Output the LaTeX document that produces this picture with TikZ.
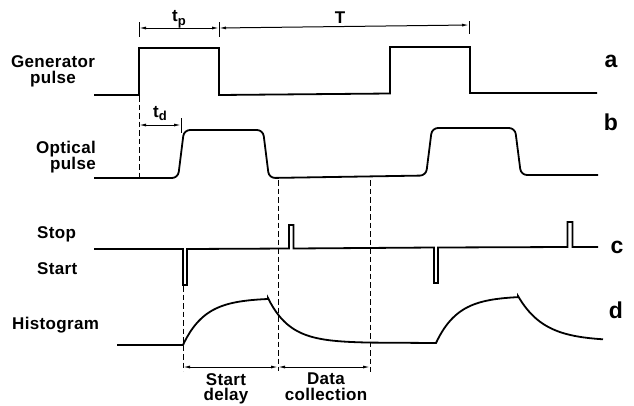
\documentclass[tikz,border=0pt]{standalone}
\usepackage{fontspec}
\newfontfamily\lblfont{Liberation Sans}[LetterSpace=2]
\usetikzlibrary{arrows.meta}
\begin{document}
\begin{tikzpicture}[x=1pt,y=-1pt,
  trace/.style={line width=1.8pt,line join=miter},
  dimline/.style={line width=1pt,{Latex[length=7pt,width=3pt]}-{Latex[length=7pt,width=3pt]}},
  tickline/.style={line width=1pt},
  guide/.style={line width=1pt,dash pattern=on 5.5pt off 3pt},
  lbl/.style={font=\lblfont\bfseries\fontsize{17}{15.5}\selectfont,inner sep=0pt,anchor=base},
  lbltwo/.style={font=\lblfont\bfseries\fontsize{17}{15.5}\selectfont,inner sep=0pt,anchor=north,align=center},
  letter/.style={font=\lblfont\bfseries\fontsize{23}{23}\selectfont,inner sep=0pt,anchor=base}]
\useasboundingbox (0,0) rectangle (634,405);
\clip (0,0) rectangle (634,405);
% ---------- labels left
\node[lbltwo] (gen) at (53,55.5) {Generator\\pulse};
\node[lbltwo,align=right,anchor=north east] (opt) at (96,140.5) {Optical\\pulse};
\node[lbl,anchor=base west] (stop) at (37,238) {Stop};
\node[lbl,anchor=base west] (start) at (37,274) {Start};
\node[lbl,anchor=base west] (hist) at (12,329) {Histogram};
% ---------- labels right
\node[letter] (la) at (611,67) {a};
\node[letter] (lb) at (611,130) {b};
\node[letter] (lc) at (617,253) {c};
\node[letter] (ld) at (616,318) {d};
% ---------- trace a: generator pulse
\draw[trace] (94,95) -- (139,95) -- (139,48) -- (219,48) -- (219,95)
  -- (390,93.5) -- (390,47) -- (470,47) -- (470,93) -- (597,93);
% ---------- trace b: optical pulse
\draw[trace,rounded corners=6pt] (94,178) -- (178,178) -- (184,130) -- (263,130)
  -- (269,178) -- (426,175.5) -- (432,128) -- (515,128) -- (521,175) -- (598,175);
% ---------- trace c: start / stop
\draw[trace] (94,249) -- (183,249) -- (183,285) -- (187,285) -- (187,249)
  -- (289,248.5) -- (289,225) -- (293.5,225) -- (293.5,248.5)
  -- (434,247.5) -- (434,283) -- (438,283) -- (438,247.5)
  -- (567.5,247) -- (567.5,222) -- (572.5,222) -- (572.5,247) -- (598,247);
% ---------- trace d: histogram
\draw[trace] (117,345) -- (183,345)
  -- plot[domain=183:268,samples=40] (\x,{345-47*(1-exp(-(\x-183)/22))})
  -- plot[domain=268:372,samples=40] (\x,{343-45*exp(-(\x-268)/22)})
  -- (436,343)
  -- plot[domain=436:518,samples=40] (\x,{343-47*(1-exp(-(\x-436)/22))})
  -- plot[domain=518:603,samples=40] (\x,{341-45*exp(-(\x-518)/26)});
% ---------- top dimensions
\coordinate (p0) at (139,28);
\coordinate (p1) at (219,28);
\coordinate (p2) at (469,25);
\draw[tickline] (139,22) -- (139,37);
\draw[tickline] (219,22) -- (219,37);
\draw[tickline] (469,21) -- (469,34);
\draw[dimline] (p0) -- (p1);
\draw[dimline] (p1) -- (p2);
\node[font=\lblfont\bfseries\fontsize{17}{17}\selectfont,inner sep=0pt,anchor=base] (tp) at (179,21) {t\raisebox{-4pt}{\fontsize{13}{13}\selectfont p}};
\node[lbl] (T) at (340,23) {T};
% t_d
\draw[guide] (139,96) -- (139,178);
\coordinate (d0) at (139,125);
\coordinate (d1) at (181,125);
\draw[tickline] (181,118) -- (181,133);
\draw[dimline] (d0) -- (d1);
\node[font=\lblfont\bfseries\fontsize{17}{17}\selectfont,inner sep=0pt,anchor=base] (td) at (160,117) {t\raisebox{-3pt}{\fontsize{13}{13}\selectfont d}};
% ---------- bottom guides and dimensions
\draw[guide] (183,286) -- (183,371);
\draw[guide] (278,180) -- (278,371);
\draw[guide] (370,180) -- (370,372);
\coordinate (b0) at (183,367);
\coordinate (b1) at (278,367);
\coordinate (b2) at (370,367);
\draw[dimline] (b0) -- (b1);
\draw[dimline] (b1) -- (b2);
\node[lbltwo] (sd) at (226,373) {Start\\delay};
\node[lbltwo] (dc) at (326,373) {Data\\collection};
\end{tikzpicture}
\end{document}
